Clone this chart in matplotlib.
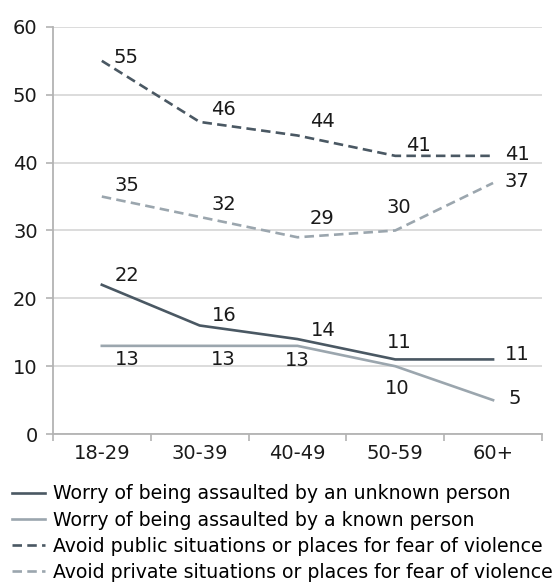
import matplotlib
matplotlib.use("Agg")
import matplotlib.pyplot as plt
import numpy as np

# data
AGE_GROUPS = ["18-29", "30-39", "40-49", "50-59", "60+"]
UNKNOWN = [22, 16, 14, 11, 11]
KNOWN = [13, 13, 13, 10, 5]
PUBLIC = [55, 46, 44, 41, 41]
PRIVATE = [35, 32, 29, 30, 37]
LABELS = [
    "Worry of being assaulted by an unknown person",
    "Worry of being assaulted by a known person",
    "Avoid public situations or places for fear of violence",
    "Avoid private situations or places for fear of violence",
]

DARK, LIGHT = "#4a5863", "#9ba6ae"
GRID, SPINE = "#d9d9d9", "#b3b3b3"
FS = 14
FS_LEG = 13.6

# value-label offsets in pixels (dx, dy), dy positive = up
OFF_UNKNOWN = [(25, 9), (25, 10), (26, 9), (4, 17), (24, 5)]
OFF_KNOWN = [(25, -14), (24, -14), (0, -15), (2, -22), (22, 2)]
OFF_PUBLIC = [(24, 3), (24, 12), (25, 14), (23, 10), (24, 1)]
OFF_PRIVATE = [(25, 11), (24, 12), (25, 19), (4, 23), (24, 1)]

plt.rcParams["font.family"] = ["DejaVu Sans"]

fig = plt.figure(figsize=(5.57, 5.85), dpi=100)
ax = fig.add_axes([0.095, 0.258, 0.878, 0.696])

x = np.arange(len(AGE_GROUPS))
series = [
    (UNKNOWN, DARK, "-", OFF_UNKNOWN),
    (KNOWN, LIGHT, "-", OFF_KNOWN),
    (PUBLIC, DARK, "--", OFF_PUBLIC),
    (PRIVATE, LIGHT, "--", OFF_PRIVATE),
]
handles = []
for (vals, col, ls, offs), lab in zip(series, LABELS):
    ln, = ax.plot(x, vals, color=col, lw=1.9, ls=ls, label=lab, zorder=3)
    if ls == "--":
        ln.set_dashes([3.6, 2.0])
    handles.append(ln)
    for xi, v, (dx, dy) in zip(x, vals, offs):
        ax.annotate(f"{v}", (xi, v), xytext=(dx, dy), textcoords="offset pixels",
                    ha="center", va="center", fontsize=FS, color="#1a1a1a")

ax.set_xlim(-0.5, len(AGE_GROUPS) - 0.5)
ax.set_ylim(0, 60)
ax.set_yticks(range(0, 61, 10))
ax.yaxis.grid(True, color=GRID, lw=1.3)
ax.set_axisbelow(True)

ax.set_xticks(x)
ax.set_xticklabels(AGE_GROUPS)
ax.set_xticks(np.arange(-0.5, len(AGE_GROUPS)), minor=True)
ax.tick_params(axis="x", which="major", length=0, pad=7, labelsize=FS, colors="#1a1a1a")
ax.tick_params(axis="x", which="minor", length=5, width=1.2, color=SPINE, direction="out")
ax.tick_params(axis="y", length=5, width=1.2, color=SPINE, pad=6, labelsize=FS,
               labelcolor="#1a1a1a")

for s in ["top", "right"]:
    ax.spines[s].set_visible(False)
for s in ["left", "bottom"]:
    ax.spines[s].set_color(SPINE)
    ax.spines[s].set_linewidth(1.3)

fig.legend(handles=handles, loc="upper left", bbox_to_anchor=(0.022, 0.172),
           frameon=False, fontsize=FS_LEG, handlelength=1.75, handletextpad=0.4,
           labelspacing=0.38, borderaxespad=0, borderpad=0)

fig.savefig("out.png", dpi=100)
